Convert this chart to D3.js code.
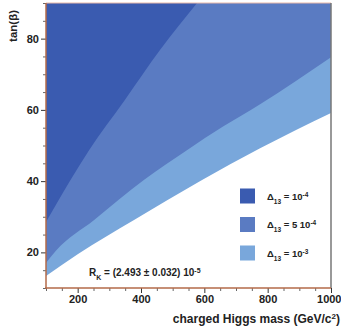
<!DOCTYPE html>
<html>
<head>
<meta charset="utf-8">
<script src="https://cdn.jsdelivr.net/npm/d3@7"></script>
<style>
  body { margin: 0; background: #fff; }
  svg { display: block; font-family: "Liberation Sans", Arial, sans-serif; font-weight: bold; }
</style>
</head>
<body>
<svg id="chart" width="341" height="329"></svg>
<script>
// boundaries of the allowed regions (mass, tan beta)
const massDark = [100, 175, 236, 349, 460, 577, 650];
const tanDark = [28.5, 40, 48.7, 62.8, 76.8, 90, 98];
const massMid = [100, 132, 252, 409, 545, 659, 776, 1000];
const tanMid = [17.0, 20.5, 29.1, 40.3, 48.7, 55.3, 61.6, 74.8];
const massLight = [100, 200, 378, 590, 776, 1000];
const tanLight = [13.4, 19.5, 29.1, 40.2, 49.2, 59.1];

const xTicks = [200, 400, 600, 800, 1000];
const yTicks = [20, 40, 60, 80];
const legendLabels = [["10", "-4"], ["5 10", "-4"], ["10", "-3"]];
const colors = ["#3a5bb0", "#5a7bc2", "#79a7db"];

const margin = { top: 3, right: 10, bottom: 41, left: 46 };
const width = 341, height = 329;
const font = "Liberation Sans, Arial, sans-serif";

const svg = d3.select("#chart");

const x = d3.scaleLinear().domain([100, 1000]).range([margin.left, width - margin.right]);
const y = d3.scaleLinear().domain([10, 90]).range([height - margin.bottom, margin.top]);

svg.append("clipPath").attr("id", "plot-clip")
  .append("rect")
  .attr("x", x(100)).attr("y", y(90))
  .attr("width", x(1000) - x(100)).attr("height", y(10) - y(90));

const zip = (ms, ts) => ms.map((m, i) => [m, ts[i]]);
const regions = [zip(massLight, tanLight), zip(massMid, tanMid), zip(massDark, tanDark)];

const area = d3.area()
  .x((d) => x(d[0]))
  .y0((d) => y(d[1]))
  .y1(y(100))
  .curve(d3.curveMonotoneX);

svg.append("g").attr("clip-path", "url(#plot-clip)")
  .selectAll("path")
  .data(regions)
  .join("path")
  .attr("d", area)
  .attr("fill", (d, i) => colors[2 - i]);

// frame
svg.append("line")
  .attr("x1", x(100)).attr("x2", x(1000)).attr("y1", y(90)).attr("y2", y(90))
  .attr("stroke", "#e8b8a8").attr("stroke-width", 1);
svg.append("line")
  .attr("x1", x(1000)).attr("x2", x(1000)).attr("y1", y(90)).attr("y2", y(10))
  .attr("stroke", "#777").attr("stroke-width", 1.5);

// x axis: minor + major ticks
const xMinor = d3.range(100, 1001, 50).filter((v) => v % 200 !== 0);
svg.append("g").attr("transform", `translate(0, ${y(10)})`)
  .call(d3.axisBottom(x).tickValues(xMinor).tickSize(3).tickFormat(""))
  .call((g) => g.selectAll(".tick line").attr("stroke", "#666"));
const xMajor = svg.append("g").attr("transform", `translate(0, ${y(10)})`)
  .call(d3.axisBottom(x).tickValues(xTicks).tickSize(5).tickPadding(2).tickFormat(d3.format("d")))
  .attr("font-family", font).attr("font-size", 11).attr("font-weight", "bold");
xMajor.selectAll("text").attr("fill", "#222")
  .filter((d) => d === 1000).attr("text-anchor", "end").attr("dx", 0)
  .attr("x", width - x(1000));
xMajor.selectAll(".tick line").attr("stroke", "#333");
svg.selectAll(".domain").remove();
svg.append("line")
  .attr("x1", x(100) - 1).attr("x2", x(1000)).attr("y1", y(10)).attr("y2", y(10))
  .attr("stroke", "#b36a48").attr("stroke-width", 1.5);

// y axis
const yMinor = d3.range(10, 91, 5).filter((v) => v % 20 !== 0);
svg.append("g").attr("transform", `translate(${x(100)}, 0)`)
  .call(d3.axisLeft(y).tickValues(yMinor).tickSize(3).tickFormat(""))
  .call((g) => g.selectAll(".tick line").attr("stroke", "#666"));
const yAxis = svg.append("g").attr("transform", `translate(${x(100)}, 0)`)
  .call(d3.axisLeft(y).tickValues(yTicks).tickSize(5).tickPadding(2))
  .attr("font-family", font).attr("font-size", 11).attr("font-weight", "bold");
yAxis.selectAll("text").attr("fill", "#222");
yAxis.selectAll(".tick line").attr("stroke", "#333");
svg.selectAll(".domain").remove();
svg.append("line")
  .attr("x1", x(100)).attr("x2", x(100)).attr("y1", y(90)).attr("y2", y(10) + 1)
  .attr("stroke", "#b36a48").attr("stroke-width", 1.5);

// axis titles
svg.append("text")
  .attr("x", width - 1).attr("y", 323)
  .attr("text-anchor", "end")
  .attr("font-size", 12).attr("fill", "#222")
  .text("charged Higgs mass (GeV/c")
  .call((t) => {
    t.append("tspan").attr("baseline-shift", "super").attr("font-size", 8).text("2");
    t.append("tspan").text(")");
  });

svg.append("text")
  .attr("transform", "translate(17, 10) rotate(-90)")
  .attr("text-anchor", "end")
  .attr("font-size", 11.5).attr("fill", "#222")
  .text("tan(β)");

// R_K annotation
const rk = svg.append("text").attr("x", 89).attr("y", 276)
  .attr("font-size", 10).attr("fill", "#222");
rk.append("tspan").text("R");
rk.append("tspan").attr("baseline-shift", "sub").attr("font-size", 7).text("K");
rk.append("tspan").text(" = (2.493 ± 0.032) 10");
rk.append("tspan").attr("baseline-shift", "super").attr("font-size", 7).text("-5");

// legend
const legendY = [196, 224.5, 253];
const legend = svg.append("g")
  .selectAll("g")
  .data(legendLabels)
  .join("g")
  .attr("transform", (d, i) => `translate(240, ${legendY[i]})`);

legend.append("rect")
  .attr("x", 0).attr("y", -7.5)
  .attr("width", 15).attr("height", 15)
  .attr("fill", (d, i) => colors[i]);

const lt = legend.append("text")
  .attr("x", 27).attr("y", 3.5)
  .attr("font-size", 9.5).attr("fill", "#222");
lt.append("tspan").text("Δ");
lt.append("tspan").attr("baseline-shift", "sub").attr("font-size", 6.5).text("13");
lt.append("tspan").text((d) => " = " + d[0]);
lt.append("tspan").attr("baseline-shift", "super").attr("font-size", 6.5).text((d) => d[1]);
</script>
</body>
</html>
